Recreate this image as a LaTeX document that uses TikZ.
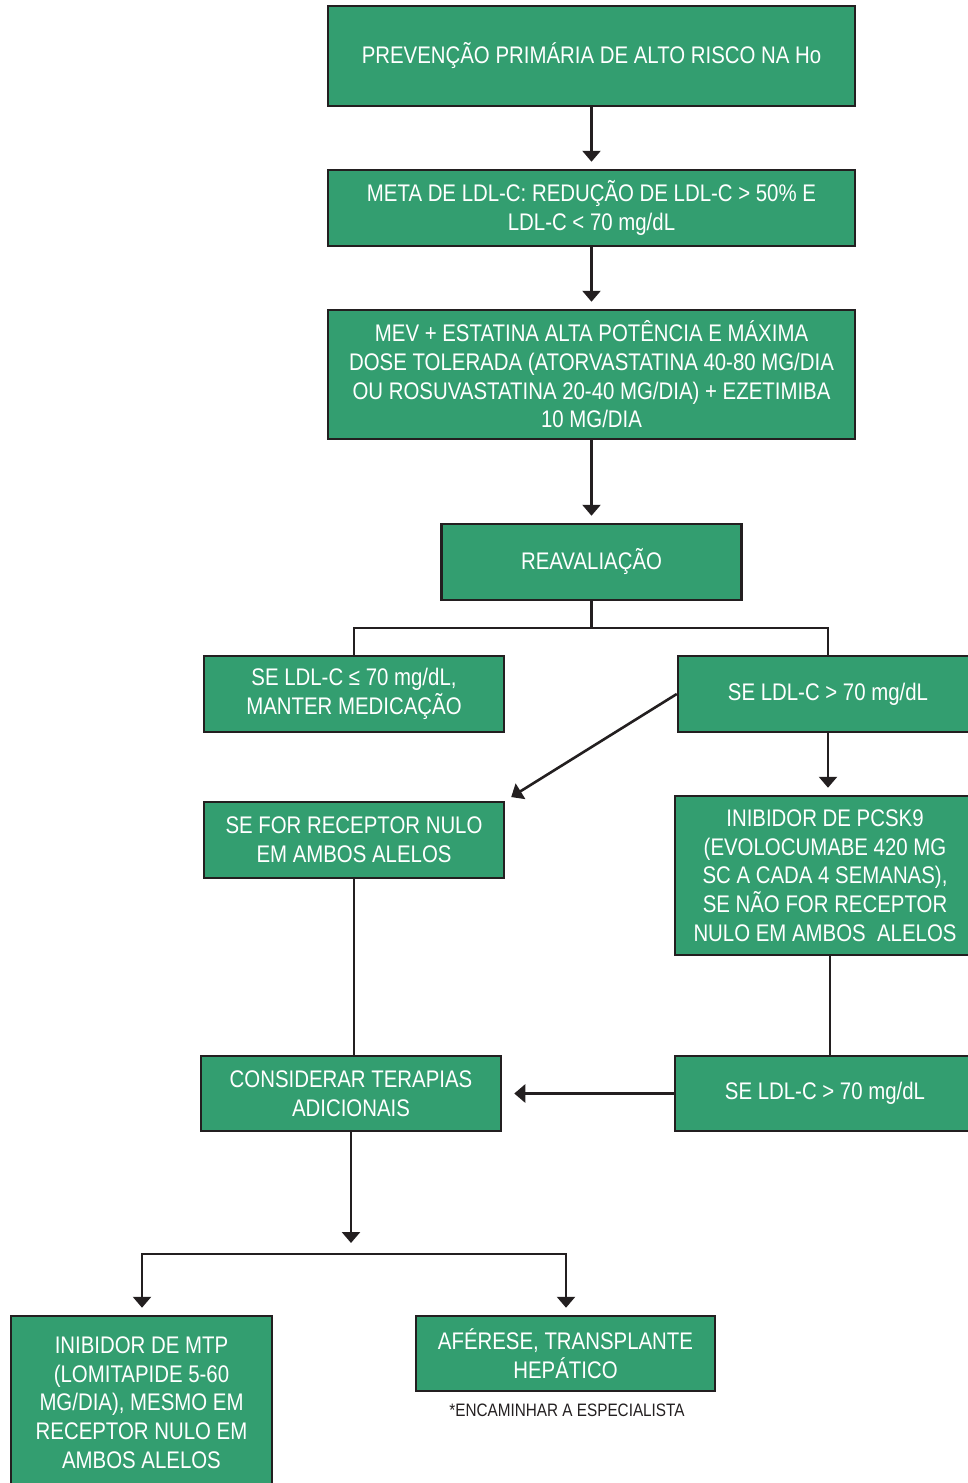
\documentclass[tikz,border=0pt]{standalone}
\usepackage{fontspec}
\setmainfont{Liberation Sans}[FakeStretch=0.85]
\usetikzlibrary{arrows.meta}
\definecolor{boxgreen}{RGB}{51,158,112}
\definecolor{edge}{RGB}{35,31,32}
\begin{document}
\begin{tikzpicture}[x=1pt,y=-1pt,
 box/.style={draw=edge, fill=boxgreen, line width=2.5pt, text=white, align=center, inner sep=0pt, font=\fontsize{24}{28.7}\selectfont},
 conn/.style={draw=edge, line width=2.6pt},
 arr/.style={conn, -{Triangle[width=18pt,length=11pt]}, shorten >=7pt},
 notetext/.style={font=\fontsize{18}{20}\selectfont, text=edge, inner sep=0pt},
]
\clip (0,0) rectangle (968,1483);
\node[box, minimum width=527pt, minimum height=100pt] (a) at (591.5,56) {PREVENÇÃO PRIMÁRIA DE ALTO RISCO NA Ho};
\node[box, minimum width=527pt, minimum height=76pt] (b) at (591.5,208) {META DE LDL-C: REDUÇÃO DE LDL-C > 50\% E\\LDL-C < 70 mg/dL};
\node[box, minimum width=527pt, minimum height=129pt] (c) at (591.5,374.5) {MEV + ESTATINA ALTA POTÊNCIA E MÁXIMA\\DOSE TOLERADA (ATORVASTATINA 40-80 MG/DIA\\OU ROSUVASTATINA 20-40 MG/DIA) + EZETIMIBA\\10 MG/DIA};
\node[box, minimum width=300pt, minimum height=76pt] (d) at (591.5,562) {REAVALIAÇÃO};
\node[box, minimum width=300pt, minimum height=76pt] (e) at (354,694) {SE LDL-C ≤ 70 mg/dL,\\MANTER MEDICAÇÃO};
\node[box, minimum width=300pt, minimum height=76pt] (f) at (828,694) {SE LDL-C > 70 mg/dL};
\node[box, minimum width=300pt, minimum height=76pt] (g) at (354,840) {SE FOR RECEPTOR NULO\\EM AMBOS ALELOS};
\node[box, minimum width=300pt, minimum height=159pt] (h) at (825,875.5) {INIBIDOR DE PCSK9\\(EVOLOCUMABE 420 MG\\SC A CADA 4 SEMANAS),\\SE NÃO FOR RECEPTOR\\NULO EM AMBOS\ \ ALELOS};
\node[box, minimum width=300pt, minimum height=75pt] (i) at (351,1093.5) {CONSIDERAR TERAPIAS\\ADICIONAIS};
\node[box, minimum width=300pt, minimum height=75pt] (j) at (825,1093.5) {SE LDL-C > 70 mg/dL};
\node[box, minimum width=261pt, minimum height=173pt] (k) at (141.5,1402.5) {INIBIDOR DE MTP\\(LOMITAPIDE 5-60\\MG/DIA), MESMO EM\\RECEPTOR NULO EM\\AMBOS ALELOS};
\node[box, minimum width=299pt, minimum height=75pt] (l) at (565.5,1353.5) {AFÉRESE, TRANSPLANTE\\HEPÁTICO};
\node[notetext] (note) at (567,1410) {*ENCAMINHAR A ESPECIALISTA};
\draw[arr] (a.south) -- (b.north);
\draw[arr] (b.south) -- (c.north);
\draw[arr] (c.south) -- (d.north);
\coordinate (split) at (591.5,628);
\draw[conn] (d.south) -- (split);
\draw[conn] (e.north) -- (e.north |- split) -- (f.north |- split) -- (f.north);
\draw[arr] (f.west) -- (g.north east);
\draw[arr] (f.south) -- (f.south |- h.north);
\draw[conn] (g.south) -- (g.south |- i.north);
\draw[conn] ([xshift=5pt]h.south) -- ([xshift=5pt]h.south |- j.north);
\draw[arr, shorten >=12pt] (j.west) -- (i.east);
\coordinate (down) at (351,1250);
\draw[arr] (i.south) -- (down);
\coordinate (mid) at (351,1254);
\draw[arr] (mid) -| ([xshift=0.5pt]k.north);
\draw[arr] (mid) -| ([xshift=0.5pt]l.north);
\end{tikzpicture}
\end{document}
